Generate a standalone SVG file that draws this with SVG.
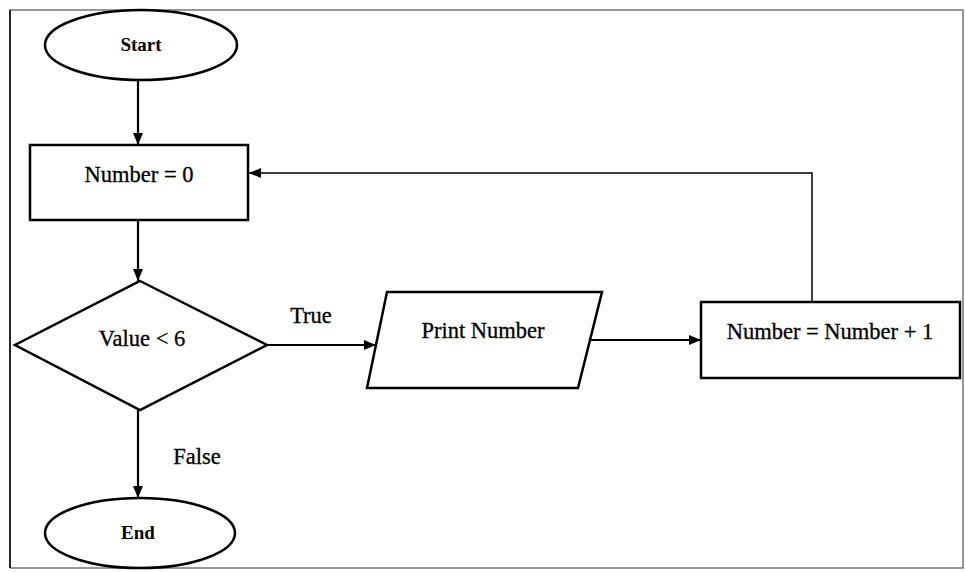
<svg xmlns="http://www.w3.org/2000/svg" width="965" height="572" viewBox="0 0 965 572">
<style>
.s{fill:#fff;stroke:#000;stroke-width:2.5}
.t{font-family:"Liberation Serif","Times New Roman",serif;font-size:22.5px;fill:#000;text-anchor:middle;stroke:#000;stroke-width:0.3}
.b{font-weight:bold;font-size:19px;stroke-width:0}
.c{fill:none;stroke:#000;stroke-width:2.2}
.thin{stroke-width:1.5}
</style>
<defs>
<marker id="ah" viewBox="0 0 12 10" refX="12" refY="5" markerWidth="12" markerHeight="10" markerUnits="userSpaceOnUse" orient="auto">
<path d="M0,0 L12,5 L0,10 Z" fill="#000"/>
</marker>
</defs>
<rect x="0" y="0" width="965" height="572" fill="#fff"/>
<g id="frame">
<path d="M10,568 V10 H963 V568 H10" fill="none" stroke="#777" stroke-width="1.5"/>
<line x1="10" y1="10" x2="10" y2="568" stroke="#000" stroke-width="1.5"/>
</g>
<g id="connectors">
<line class="c" x1="138" y1="80" x2="138" y2="145" marker-end="url(#ah)"/>
<line class="c" x1="138" y1="220" x2="138" y2="281" marker-end="url(#ah)"/>
<line class="c" x1="138" y1="410" x2="138" y2="498" marker-end="url(#ah)"/>
<line class="c" x1="267" y1="345" x2="376" y2="345" marker-end="url(#ah)"/>
<line class="c" x1="590" y1="340" x2="701" y2="340" marker-end="url(#ah)"/>
<path class="c thin" d="M812,302 V173 H249" marker-end="url(#ah)"/>
<text class="t" x="311" y="323">True</text>
<text class="t" x="197" y="464">False</text>
</g>
<g id="start">
<ellipse class="s" cx="141" cy="45" rx="96" ry="35"/>
<text class="t b" x="141" y="51">Start</text>
</g>
<g id="init">
<rect class="s" x="30" y="145" width="218" height="75"/>
<text class="t" x="139" y="182">Number = 0</text>
</g>
<g id="decision">
<polygon class="s" points="140,281 267,345 140,410 15,345"/>
<text class="t" x="142" y="346">Value &lt; 6</text>
</g>
<g id="print">
<polygon class="s" points="387,292 602,292 578,388 367,388"/>
<text class="t" x="483" y="338">Print Number</text>
</g>
<g id="increment">
<rect class="s" x="701" y="302" width="259" height="76"/>
<text class="t" x="830" y="339">Number = Number + 1</text>
</g>
<g id="end">
<ellipse class="s" cx="140" cy="533" rx="95" ry="35"/>
<text class="t b" x="138" y="539">End</text>
</g>
</svg>
